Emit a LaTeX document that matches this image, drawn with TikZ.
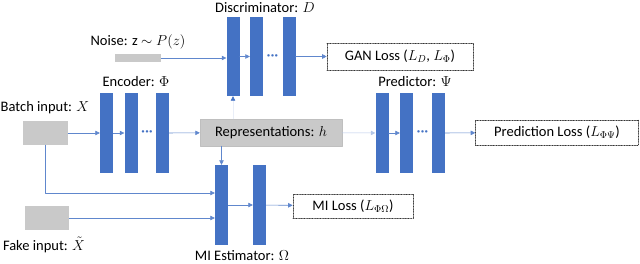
\documentclass[tikz,border=0pt]{standalone}
\usepackage{fontspec}
\setmainfont{Carlito}
\usetikzlibrary{arrows.meta}
\definecolor{colblue}{HTML}{4472C4}
\definecolor{boxgray}{HTML}{C9C9C9}

\begin{document}
\begin{tikzpicture}[line cap=round,line join=round,>={Triangle[length=4.5pt,width=4.5pt]},x=1pt,y=-1pt,
	every node/.style={font=\fontsize{14.5}{16}\selectfont},
	col/.style={fill=colblue,minimum width=13pt,minimum height=80pt,inner sep=0pt},
	inbox/.style={fill=boxgray,inner sep=0pt},
	loss/.style={draw=black!80,densely dotted,line width=0.6pt,fill=white,inner sep=0pt},
	conn/.style={->,draw=colblue!85,line width=0.6pt},
	dots/.style={text=colblue,font=\fontsize{13}{13}\selectfont\bfseries,inner sep=0pt}]
			\useasboundingbox (0,0) rectangle (640,264);
			% discriminator
			\node[col,minimum height=79pt] (d1) at (233,56.5) {};
			\node[col,minimum height=79pt] (d2) at (256.5,56.5) {};
			\node[col,minimum height=79pt] (d3) at (289,56.5) {};
			\node[dots] (ddots) at (272.5,57) {·\kern0.5pt·\kern0.5pt·};
			\node (dlab) at (265,8) {Discriminator: $D$};
			% encoder
			\node[col] (e1) at (106.5,133) {};
			\node[col] (e2) at (131,133) {};
			\node[col] (e3) at (162.5,133) {};
			\node[dots] (edots) at (147,133) {·\kern0.5pt·\kern0.5pt·};
			\node (elab) at (136,82) {Encoder: $\Phi$};
			% predictor
			\node[col] (p1) at (382,133) {};
			\node[col] (p2) at (406.5,133) {};
			\node[col] (p3) at (438.5,133) {};
			\node[dots] (pdots) at (422.5,133) {·\kern0.5pt·\kern0.5pt·};
			\node (plab) at (415,82) {Predictor: $\Psi$};
			% MI estimator
			\node[col] (m1) at (221.5,205) {};
			\node[col] (m2) at (259.5,205) {};
			\node[inner sep=0pt] (mlab) at (242,256) {MI Estimator: $\Omega$};
			% inputs
			\node[inbox,minimum width=46pt,minimum height=8pt] (noise) at (138,58) {};
			\node (nlab) at (138,42) {Noise: z $\sim P(z)$};
			\node[inbox,minimum width=45pt,minimum height=24pt] (batch) at (45.5,133) {};
			\node (blab) at (45,108) {Batch input: $X$};
			\node[inbox,minimum width=44pt,minimum height=24pt] (fake) at (47,218) {};
			\node (flab) at (44,245) {Fake input: $\tilde{X}$};
			\node[inbox,draw=black!25,minimum width=142pt,minimum height=27pt] (rep) at (271,132.5) {Representations: $h$};
			% losses
			\node[loss,minimum width=146pt,minimum height=27pt] (gan) at (400,56.5) {GAN Loss ($L_D$, $L_\Phi$)};
			\node[loss,minimum width=163pt,minimum height=25pt] (pred) at (557,132.5) {Prediction Loss ($L_{\Phi\Psi}$)};
			\node[loss,minimum width=120pt,minimum height=24pt] (mil) at (353,206) {MI Loss ($L_{\Phi\Omega}$)};
			% connectors
			\draw[conn] (noise.east) -- (noise.east -| d1.west);
			\draw[conn] (d1) -- (d2);
			\draw[conn] (d3) -- (gan);
			\draw[conn] (batch) -- (e1);
			\draw[conn] (e1) -- (e2);
			\draw[conn] (e3) -- (rep);
			\draw[conn,draw=colblue!40] (rep) -- (p1);
			\draw[conn] (p1) -- (p2);
			\draw[conn] (p3) -- (pred);
			\draw[conn,draw=colblue!12,-{Triangle[length=4.5pt,width=4.5pt,color=colblue]}] (rep.north -| d1.south) -- (d1.south);
			\draw[conn] (rep.south -| m1.north) -- (m1.north);
			\draw[conn] (batch.south) |- ([yshift=12pt]m1.west);
			\draw[conn] (fake.east) -- (fake.east -| m1.west);
			\draw[conn] (m1) -- (m2);
			\draw[conn] (m2) -- (mil);
\end{tikzpicture}
\end{document}
